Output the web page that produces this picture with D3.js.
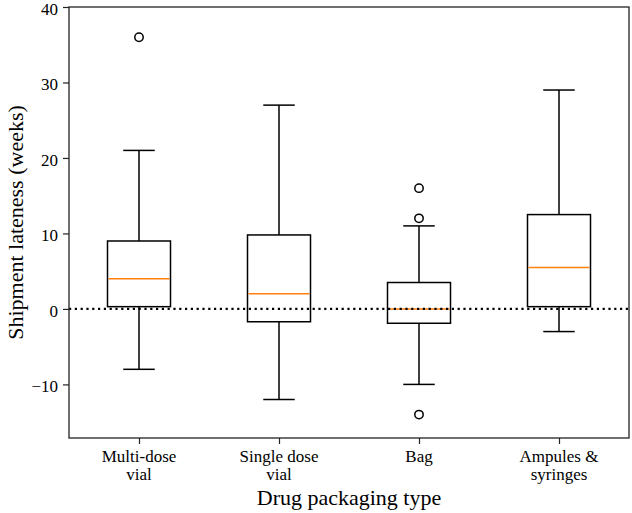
<!DOCTYPE html>
<html>
<head>
<meta charset="utf-8">
<script src="https://cdn.jsdelivr.net/npm/d3@7"></script>
<style>
  body { margin: 0; background: #fff; }
  svg text { font-family: "Liberation Serif", "DejaVu Serif", serif !important; fill: #000; }
</style>
</head>
<body>
<div id="chart"></div>
<script>
// categories and box statistics
var categories = ["Multi-dose\nvial", "Single dose\nvial", "Bag", "Ampules &\nsyringes"];
var whiskerLow = [-8, -12, -10, -3];
var q1Values = [0.3, -1.7, -1.9, 0.3];
var medians = [4, 2, 0, 5.5];
var q3Values = [9, 9.8, 3.5, 12.5];
var whiskerHigh = [21, 27, 11, 29];
var outliers = [[36], [], [16, 12, -14], []];
var yTicks = [-10, 0, 10, 20, 30, 40];

var svgWidth = 632;
var svgHeight = 513;
var margin = { top: 7, right: 3, bottom: 75, left: 69 };
var width = svgWidth - margin.left - margin.right;
var height = svgHeight - margin.top - margin.bottom;

var svg = d3.select("#chart")
    .append("svg")
    .attr("width", svgWidth)
    .attr("height", svgHeight);

var chartGroup = svg.append("g")
    .attr("transform", `translate(${margin.left}, ${margin.top})`);

var xScale = d3.scaleLinear()
    .domain([0.5, 4.5])
    .range([0, width]);

var yScale = d3.scaleLinear()
    .domain([-17.1, 40])
    .range([height, 0]);

var boxData = categories.map(function(c, i) {
    return {
        name: c, pos: i + 1,
        lo: whiskerLow[i], q1: q1Values[i], med: medians[i],
        q3: q3Values[i], hi: whiskerHigh[i], out: outliers[i]
    };
});

var boxHalf = 0.225;
var capHalf = 0.1125;

var boxes = chartGroup.selectAll(".box")
    .data(boxData)
    .enter()
    .append("g")
    .attr("class", "box");

// whiskers
boxes.append("line")
    .attr("x1", d => xScale(d.pos)).attr("x2", d => xScale(d.pos))
    .attr("y1", d => yScale(d.q1)).attr("y2", d => yScale(d.lo))
    .attr("stroke", "#000").attr("stroke-width", 1.5);
boxes.append("line")
    .attr("x1", d => xScale(d.pos)).attr("x2", d => xScale(d.pos))
    .attr("y1", d => yScale(d.q3)).attr("y2", d => yScale(d.hi))
    .attr("stroke", "#000").attr("stroke-width", 1.5);

// caps
boxes.append("line")
    .attr("x1", d => xScale(d.pos - capHalf)).attr("x2", d => xScale(d.pos + capHalf))
    .attr("y1", d => yScale(d.lo)).attr("y2", d => yScale(d.lo))
    .attr("stroke", "#000").attr("stroke-width", 1.5);
boxes.append("line")
    .attr("x1", d => xScale(d.pos - capHalf)).attr("x2", d => xScale(d.pos + capHalf))
    .attr("y1", d => yScale(d.hi)).attr("y2", d => yScale(d.hi))
    .attr("stroke", "#000").attr("stroke-width", 1.5);

// box
boxes.append("rect")
    .attr("x", d => xScale(d.pos - boxHalf))
    .attr("width", d => xScale(d.pos + boxHalf) - xScale(d.pos - boxHalf))
    .attr("y", d => yScale(d.q3))
    .attr("height", d => yScale(d.q1) - yScale(d.q3))
    .attr("fill", "none")
    .attr("stroke", "#000")
    .attr("stroke-width", 1.5);

// median
boxes.append("line")
    .attr("x1", d => xScale(d.pos - boxHalf) + 1).attr("x2", d => xScale(d.pos + boxHalf) - 1)
    .attr("y1", d => yScale(d.med)).attr("y2", d => yScale(d.med))
    .attr("stroke", "#ff7f0e").attr("stroke-width", 1.5);

// fliers
boxes.selectAll("circle")
    .data(d => d.out.map(v => ({ pos: d.pos, v: v })))
    .enter()
    .append("circle")
    .attr("cx", d => xScale(d.pos))
    .attr("cy", d => yScale(d.v))
    .attr("r", 4.2)
    .attr("fill", "none")
    .attr("stroke", "#000")
    .attr("stroke-width", 1.5);

// zero reference line
chartGroup.append("line")
    .attr("x1", 0).attr("x2", width)
    .attr("y1", yScale(0)).attr("y2", yScale(0))
    .attr("stroke", "#000")
    .attr("stroke-width", 2.2)
    .attr("stroke-dasharray", "2.2,3.6");

// frame
chartGroup.append("rect")
    .attr("x", 0).attr("y", 0)
    .attr("width", width).attr("height", height)
    .attr("fill", "none")
    .attr("stroke", "#222")
    .attr("stroke-width", 1.3);

var leftAxis = d3.axisLeft(yScale)
    .tickValues(yTicks)
    .tickSize(6)
    .tickPadding(5)
    .tickFormat(d => d < 0 ? "\u2212" + Math.abs(d) : d);

var yAxisG = chartGroup.append("g").call(leftAxis);
yAxisG.attr("font-family", null);
yAxisG.select(".domain").remove();
yAxisG.selectAll("line").attr("stroke", "#222").attr("stroke-width", 1.2);
yAxisG.selectAll("text")
    .attr("font-size", 17)
    .attr("dy", "0.42em")
    .attr("fill", "#000");

var bottomAxis = d3.axisBottom(xScale)
    .tickValues(boxData.map(d => d.pos))
    .tickSize(6)
    .tickFormat("");

var xAxisG = chartGroup.append("g")
    .attr("transform", `translate(0, ${height})`)
    .call(bottomAxis);
xAxisG.attr("font-family", null);
xAxisG.select(".domain").remove();
xAxisG.selectAll("line").attr("stroke", "#222").attr("stroke-width", 1.2);

// multi-line category labels
var labelGroup = chartGroup.selectAll(".catlabel")
    .data(boxData)
    .enter()
    .append("text")
    .attr("class", "catlabel")
    .attr("text-anchor", "middle")
    .attr("font-size", 17)
    .attr("transform", d => `translate(${xScale(d.pos)}, ${height + 24})`);

labelGroup.selectAll("tspan")
    .data(d => d.name.split("\n"))
    .enter()
    .append("tspan")
    .attr("x", 0)
    .attr("dy", (d, i) => i === 0 ? 0 : 18)
    .text(d => d);

chartGroup.append("text")
    .attr("text-anchor", "middle")
    .attr("x", width / 2)
    .attr("y", height + 67)
    .attr("font-size", 22)
    .text("Drug packaging type");

chartGroup.append("text")
    .attr("text-anchor", "middle")
    .attr("transform", `translate(${-46}, ${height / 2}) rotate(-90)`)
    .attr("font-size", 22)
    .text("Shipment lateness (weeks)");
</script>
</body>
</html>
